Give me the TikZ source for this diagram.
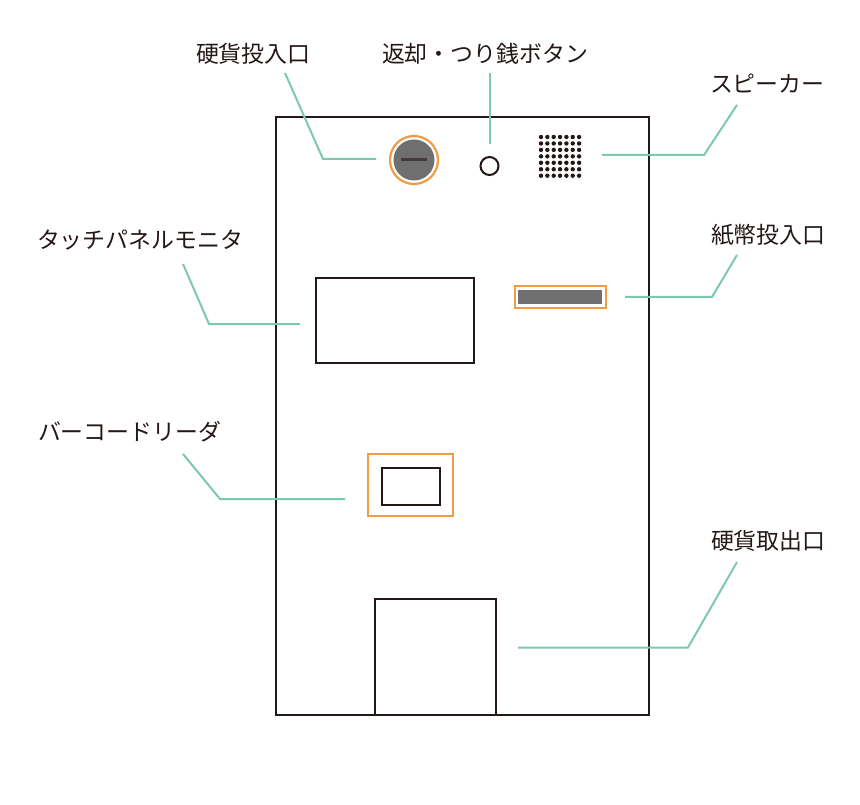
\documentclass[tikz,border=0pt]{standalone}
\usepackage{fontspec}
\setmainfont{Noto Sans CJK JP}
\definecolor{ink}{HTML}{231815}
\definecolor{lead}{HTML}{7CC8B0}
\definecolor{accent}{HTML}{F29B45}
\definecolor{fillgray}{HTML}{6F6F6F}
\tikzset{
  x=1pt,y=-1pt,
  part/.style={draw=ink,line width=2pt,fill=white,inner sep=0pt,outer sep=0pt,rectangle},
  halo/.style={draw=accent,line width=2.2pt,inner sep=0pt,outer sep=0pt},
  gray/.style={fill=fillgray,draw=none,inner sep=0pt,outer sep=0pt},
  lbl/.style={anchor=west,inner sep=0pt,outer sep=0pt,text=ink,font=\fontsize{22.9pt}{26pt}\selectfont},
  leader/.style={draw=lead,line width=2pt},
  dot/.style={fill=ink,draw=none,circle,minimum size=4.4pt,inner sep=0pt},
}
\begin{document}
\begin{tikzpicture}
\useasboundingbox (0,0) rectangle (860,805);
\node[part,minimum width=373pt,minimum height=597pt] (body) at (462.5,416) {};
\node[part,minimum width=158pt,minimum height=84.5pt] (panel) at (395,320.5) {};
\node[part,minimum width=121pt,minimum height=116pt] (tray) at (435.5,657) {};
\node[halo,draw,circle,minimum size=48pt] (coinring) at (414,160) {};
\node[gray,circle,minimum size=41pt] (coin) at (414,160) {};
\node[fill=ink!85!white,inner sep=0pt,minimum width=26pt,minimum height=3pt] (slot) at (414,160) {};
\node[draw=ink,line width=2pt,circle,minimum size=18pt,inner sep=0pt] (button) at (489.5,166) {};
\foreach \i in {0,...,6}{\foreach \j in {0,...,6}{
  \node[dot] (sp\i\j) at ({541+6.35*\i},{137+6.45*\j}) {};
}}
\node[halo,draw,rectangle,minimum width=91pt,minimum height=22pt] (notering) at (560.5,297) {};
\node[gray,minimum width=84pt,minimum height=14pt] (noteslot) at (560,297) {};
\node[halo,draw,rectangle,minimum width=85pt,minimum height=62pt] (barring) at (410.5,485) {};
\node[part,minimum width=58pt,minimum height=37pt] (barcode) at (411,486) {};
\node[lbl] (l1) at (196,54) {硬貨投入口};
\node[lbl] (l2) at (382,54) {返却・つり銭ボタン};
\node[lbl] (l3) at (710,84) {スピーカー};
\node[lbl] (l4) at (37,240) {タッチパネルモニタ};
\node[lbl] (l5) at (711,235) {紙幣投入口};
\node[lbl] (l6) at (38,432) {バーコードリーダ};
\node[lbl] (l7) at (711,541) {硬貨取出口};
\coordinate (a1) at (285,73); \coordinate (b1) at (323,159); \coordinate (c1) at (376,159);
\coordinate (a2) at (489.9,73); \coordinate (c2) at (489.9,144);
\coordinate (a3) at (737,105); \coordinate (b3) at (704,155); \coordinate (c3) at (602,155);
\coordinate (a4) at (183,264); \coordinate (b4) at (209,324); \coordinate (c4) at (300,324);
\coordinate (a5) at (737,255); \coordinate (b5) at (712,297); \coordinate (c5) at (625,297);
\coordinate (a6) at (183,454); \coordinate (b6) at (220,499); \coordinate (c6) at (345,499);
\coordinate (a7) at (737,562); \coordinate (b7) at (688,647.5); \coordinate (c7) at (518,647.5);
\draw[leader] (a1) -- (b1) -- (c1);
\draw[leader] (a2) -- (c2);
\draw[leader] (a3) -- (b3) -- (c3);
\draw[leader] (a4) -- (b4) -- (c4);
\draw[leader] (a5) -- (b5) -- (c5);
\draw[leader] (a6) -- (b6) -- (c6);
\draw[leader] (a7) -- (b7) -- (c7);
\end{tikzpicture}
\end{document}
